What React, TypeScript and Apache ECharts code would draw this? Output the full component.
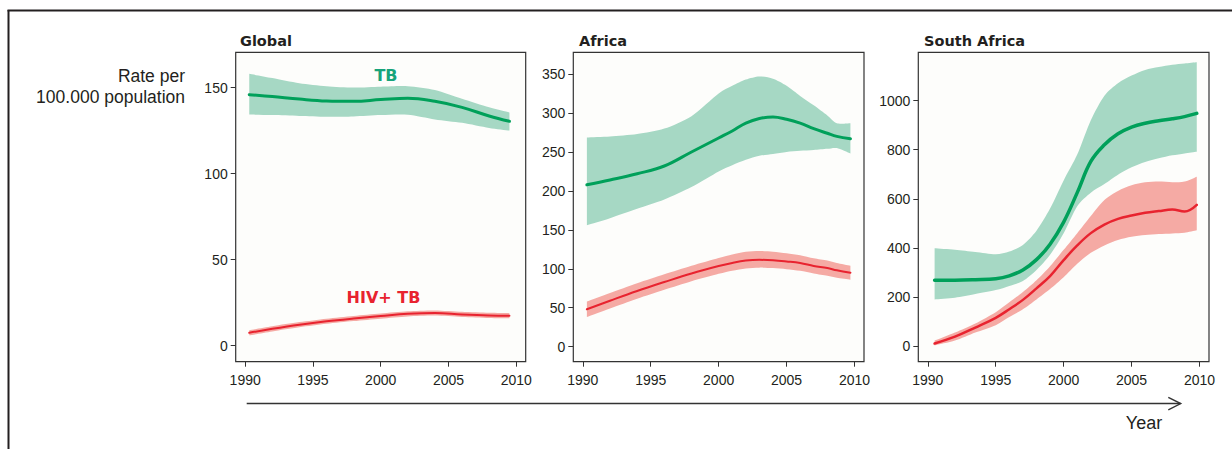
import React, { useEffect, useRef } from "react";
import * as echarts from "echarts";

// ---------- data ----------
const xTicks = [1990, 1995, 2000, 2005, 2010];

// Global
const gYears = [1990.3, 1992, 1994, 1996, 1998, 2000, 2002, 2004, 2006, 2008, 2009.5];
const gTB = [145.9, 144.8, 143.3, 142.2, 142.0, 143.0, 143.8, 142.0, 138.5, 133.5, 130.4];
const gTBLow = [134.3, 134.0, 133.5, 133.0, 133.2, 134.0, 134.2, 131.5, 129.5, 126.5, 125.0];
const gTBHigh = [158.0, 155.5, 152.5, 150.8, 150.0, 150.5, 150.8, 148.6, 143.5, 138.5, 135.5];
const gHIV = [7.5, 9.8, 12.2, 14.2, 15.8, 17.2, 18.5, 19.0, 18.2, 17.6, 17.4];
const gHIVLow = [6.0, 8.3, 10.7, 12.7, 14.3, 15.7, 17.0, 17.5, 16.7, 16.1, 15.9];
const gHIVHigh = [9.0, 11.3, 13.7, 15.7, 17.3, 18.7, 20.0, 20.5, 19.7, 19.1, 18.9];
const gYTicks = [0, 50, 100, 150];

// Africa
const aYears = [1990.3, 1992, 1994, 1996, 1998, 2000, 2001, 2002, 2003, 2004, 2005, 2006, 2007, 2008, 2008.7, 2009.7];
const aTB = [207.8, 214, 222, 232, 250, 268, 277, 287, 293, 295, 292, 287, 280, 274, 270, 267];
const aTBLow = [156, 165, 177, 189, 205, 225, 233, 240, 245, 247.5, 250, 251.5, 252.5, 254, 255, 248];
const aTBHigh = [268.7, 270, 273, 280, 296, 325, 335, 343, 347, 344, 335, 322, 310, 297, 287, 287];
const aHIV = [48, 59, 71.5, 83, 94, 103.5, 107.5, 110.5, 111.5, 111, 109.5, 107.5, 103.7, 101, 98, 95];
const aHIVLow = [38, 49, 61.5, 73, 84, 93.5, 97.5, 100.5, 101.5, 101, 99.5, 97.5, 94, 91, 88.5, 86];
const aHIVHigh = [58, 69, 81.5, 93, 104, 114, 118.5, 122, 123, 122, 120, 117.5, 113.5, 110.5, 107.5, 104];
const aYTicks = [0, 50, 100, 150, 200, 250, 300, 350];

// South Africa
const sYears = [1990.5, 1992, 1993.5, 1995, 1996, 1997, 1998, 1999, 2000, 2001, 2002, 2003, 2004, 2005, 2006, 2007, 2008, 2008.9, 2009.8];
const sTB = [268, 268, 270, 274, 286, 310, 352, 415, 505, 625, 752, 820, 865, 892, 908, 918, 926, 935, 948];
const sTBLow = [190, 197, 212, 228, 245, 265, 310, 372, 460, 570, 625, 660, 698, 728, 750, 765, 777, 785, 792];
const sTBHigh = [398, 392, 383, 374, 385, 412, 470, 560, 675, 780, 920, 1020, 1071, 1102, 1125, 1137, 1146, 1151, 1156];
const sHIV = [10, 38, 75, 115, 150, 188, 235, 285, 350, 410, 460, 495, 518, 532, 543, 550, 556, 548, 575];
const sHIVLow = [2, 22, 55, 85, 118, 150, 190, 232, 280, 335, 380, 410, 432, 445, 452, 456, 459, 462, 472];
const sHIVHigh = [22, 55, 92, 138, 178, 220, 268, 325, 392, 460, 530, 595, 632, 655, 667, 670, 667, 670, 690];
const sYTicks = [0, 200, 400, 600, 800, 1000];

const panelTitles = ["Global", "Africa", "South Africa"];

// ---------- styles ----------
const GREEN_LINE = "#00a05a";
const GREEN_BAND = "#a6d8c4";
const RED_LINE = "#e8232f";
const RED_BAND = "#f5aaa4";
const TEXT = "#231f20";
const SANS = "'Liberation Sans', Arial, Helvetica, sans-serif";
const BOLD = "'DejaVu Sans', 'Liberation Sans', sans-serif";

const grids = [
  { left: 235.7, top: 52.3, width: 290, height: 309.4 },
  { left: 573.3, top: 52.3, width: 290.7, height: 309.4 },
  { left: 918.3, top: 52.3, width: 290.7, height: 309.4 },
];
const yRanges = [
  { min: -9.3, max: 170.5, ticks: gYTicks },
  { min: -19.3, max: 378, ticks: aYTicks },
  { min: -64, max: 1197, ticks: sYTicks },
];

function pairs(xs: number[], ys: number[]) {
  return xs.map((x, i) => [x, ys[i]]);
}

// Catmull-Rom spline through pixel points, as cubic bezier path commands
function curve(p: number[][]) {
  let d = "";
  const t = 0.8;
  for (let i = 0; i < p.length - 1; i++) {
    const p0 = p[Math.max(0, i - 1)];
    const p1 = p[i];
    const p2 = p[i + 1];
    const p3 = p[Math.min(p.length - 1, i + 2)];
    const c1x = p1[0] + ((p2[0] - p0[0]) / 6) * t;
    const c1y = p1[1] + ((p2[1] - p0[1]) / 6) * t;
    const c2x = p2[0] - ((p3[0] - p1[0]) / 6) * t;
    const c2y = p2[1] - ((p3[1] - p1[1]) / 6) * t;
    d += ` C${c1x.toFixed(2)},${c1y.toFixed(2)} ${c2x.toFixed(2)},${c2y.toFixed(2)} ${p2[0].toFixed(2)},${p2[1].toFixed(2)}`;
  }
  return d;
}

function band(idx: number, xs: number[], low: number[], high: number[], color: string) {
  return {
    type: "custom",
    xAxisIndex: idx,
    yAxisIndex: idx,
    data: [[xs[0], low[0]]],
    encode: { x: 0, y: 1 },
    silent: true,
    z: 1,
    renderItem: (_params: any, api: any) => {
      const up = xs.map((x, i) => api.coord([x, high[i]]));
      const lo = xs.map((x, i) => api.coord([x, low[i]])).reverse();
      const d =
        `M${up[0][0].toFixed(2)},${up[0][1].toFixed(2)}` +
        curve(up) +
        ` L${lo[0][0].toFixed(2)},${lo[0][1].toFixed(2)}` +
        curve(lo) +
        " Z";
      return {
        type: "path",
        shape: { pathData: d },
        style: { fill: color, stroke: null },
      };
    },
  };
}

function mainLine(idx: number, xs: number[], ys: number[], color: string, width: number) {
  return {
    type: "line",
    xAxisIndex: idx,
    yAxisIndex: idx,
    data: pairs(xs, ys),
    smooth: 0.4,
    symbol: "none",
    lineStyle: { color, width, cap: "round" },
    silent: true,
    z: 3,
  };
}

export default function App() {
  const ref = useRef<HTMLDivElement>(null);

  useEffect(() => {
    if (!ref.current) return;
    const chart = echarts.init(ref.current, undefined, { renderer: "svg" });

    const option: any = {
      animation: false,
      backgroundColor: "#ffffff",
      grid: grids.map((g) => ({
        ...g,
        show: true,
        backgroundColor: "#fdfdfb",
        borderColor: "#333333",
        borderWidth: 1.2,
        containLabel: false,
      })),
      xAxis: grids.map((_, i) => ({
        gridIndex: i,
        type: "value",
        min: 1989.3,
        max: 2010.7,
        axisLine: { show: false, onZero: false },
        axisTick: {
          show: true,
          length: 5,
          customValues: xTicks,
          lineStyle: { color: "#333333", width: 1 },
        },
        axisLabel: {
          customValues: xTicks,
          formatter: (v: number) => String(v),
          margin: 11,
          fontSize: 14,
          color: TEXT,
          fontFamily: SANS,
        },
        splitLine: { show: false },
      })),
      yAxis: grids.map((_, i) => ({
        gridIndex: i,
        type: "value",
        min: yRanges[i].min,
        max: yRanges[i].max,
        axisLine: { show: false, onZero: false },
        axisTick: {
          show: true,
          length: 5,
          customValues: yRanges[i].ticks,
          lineStyle: { color: "#333333", width: 1 },
        },
        axisLabel: {
          customValues: yRanges[i].ticks,
          formatter: (v: number) => String(v),
          margin: 8,
          fontSize: 14,
          color: TEXT,
          fontFamily: SANS,
        },
        splitLine: { show: false },
      })),
      series: [
        band(0, gYears, gTBLow, gTBHigh, GREEN_BAND),
        band(0, gYears, gHIVLow, gHIVHigh, RED_BAND),
        mainLine(0, gYears, gTB, GREEN_LINE, 3),
        mainLine(0, gYears, gHIV, RED_LINE, 2),
        band(1, aYears, aTBLow, aTBHigh, GREEN_BAND),
        band(1, aYears, aHIVLow, aHIVHigh, RED_BAND),
        mainLine(1, aYears, aTB, GREEN_LINE, 3),
        mainLine(1, aYears, aHIV, RED_LINE, 2),
        band(2, sYears, sTBLow, sTBHigh, GREEN_BAND),
        band(2, sYears, sHIVLow, sHIVHigh, RED_BAND),
        mainLine(2, sYears, sTB, GREEN_LINE, 3.5),
        mainLine(2, sYears, sHIV, RED_LINE, 2.5),
      ],
      graphic: [
        // outer frame
        { type: "line", shape: { x1: 7.5, y1: 10.5, x2: 1232, y2: 10.5 }, style: { stroke: TEXT, lineWidth: 2 } },
        { type: "line", shape: { x1: 8.5, y1: 10, x2: 8.5, y2: 449 }, style: { stroke: TEXT, lineWidth: 2 } },
        // panel titles
        ...panelTitles.map((t, i) => ({
          type: "text",
          x: [240, 579, 924][i],
          y: 41,
          style: {
            text: t,
            fontSize: 14.5,
            fontWeight: "bold",
            fontFamily: BOLD,
            fill: TEXT,
            align: "left",
            verticalAlign: "middle",
          },
        })),
        // y axis title
        {
          type: "text",
          x: 185,
          y: 75.5,
          style: { text: "Rate per", fontSize: 17.5, fontFamily: SANS, fill: TEXT, align: "right", verticalAlign: "middle" },
        },
        {
          type: "text",
          x: 185,
          y: 97,
          style: { text: "100.000 population", fontSize: 17.5, fontFamily: SANS, fill: TEXT, align: "right", verticalAlign: "middle" },
        },
        // series labels
        {
          type: "text",
          x: 386,
          y: 75.5,
          z: 10,
          style: { text: "TB", fontSize: 16, fontWeight: "bold", fontFamily: BOLD, fill: "#17a37a", align: "center", verticalAlign: "middle" },
        },
        {
          type: "text",
          x: 383.5,
          y: 297.5,
          z: 10,
          style: { text: "HIV+ TB", fontSize: 16, fontWeight: "bold", fontFamily: BOLD, fill: RED_LINE, align: "center", verticalAlign: "middle" },
        },
        // time arrow
        { type: "line", shape: { x1: 246.7, y1: 403.5, x2: 1180.5, y2: 403.5 }, style: { stroke: "#333333", lineWidth: 1.4 } },
        {
          type: "polyline",
          shape: { points: [[1168.3, 397.3], [1180.7, 403.5], [1168.3, 409.8]] },
          style: { stroke: "#333333", lineWidth: 1.4, fill: null },
        },
        {
          type: "text",
          x: 1144,
          y: 423,
          style: { text: "Year", fontSize: 18, fontFamily: SANS, fill: TEXT, align: "center", verticalAlign: "middle" },
        },
      ],
    };

    chart.setOption(option);
    return () => chart.dispose();
  }, []);

  return (
    <div
      ref={ref}
      style={{ position: "absolute", left: 0, top: 0, width: 1232, height: 449, background: "#fff" }}
    />
  );
}
